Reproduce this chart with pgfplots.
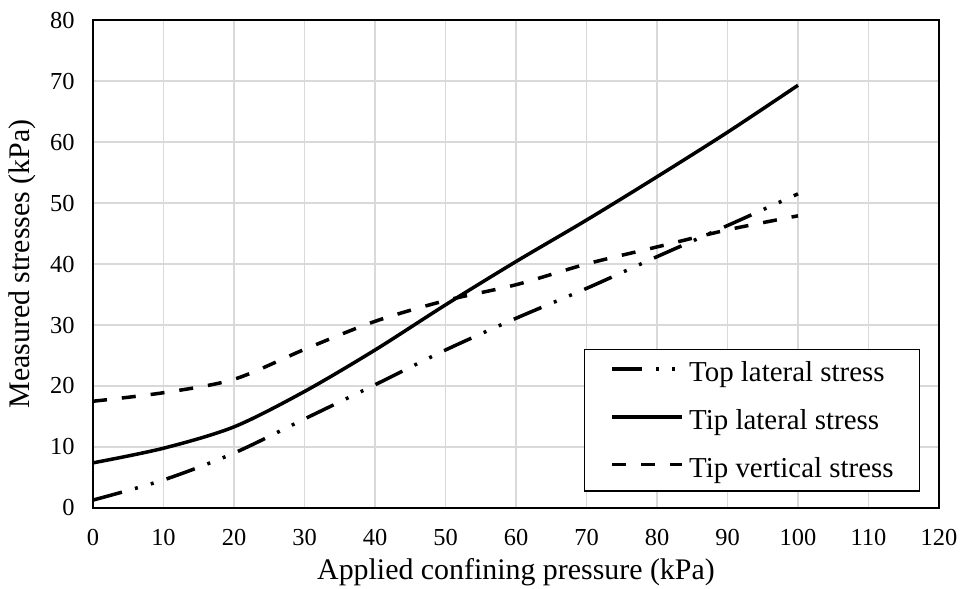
\documentclass[border=0pt]{standalone}
\usepackage{fontspec}
\setmainfont{Liberation Serif}
\usepackage{pgfplots}
\pgfplotsset{compat=1.18}
\begin{document}
\begin{tikzpicture}
\begin{axis}[
  at={(0,0)}, anchor=south west,
  scale only axis, width=846bp, height=488bp,
  xmin=0, xmax=120, ymin=0, ymax=80,
  xtick distance=10, ytick distance=10,
  grid=major,
  major grid style={draw=black!15, line width=1.3bp},
  axis line style={line width=1.8bp, black},
  tick style={draw=none},
  /pgf/number format/assume math mode=true,
  ticklabel style={font=\fontsize{24.5}{28}\selectfont},
  xticklabel style={yshift=-18bp},
  yticklabel style={xshift=-15bp},
  xlabel={Applied confining pressure (kPa)},
  ylabel={Measured stresses (kPa)},
  label style={font=\fontsize{30}{34}\selectfont},
  xlabel style={yshift=-6bp},
  ylabel style={yshift=7bp},
  legend style={at={(rel axis cs:0.5804,0.3258)}, anchor=north west,
    draw=black, line width=1.4bp,
    font=\fontsize{29}{33}\selectfont,
    inner xsep=26bp, inner ysep=12bp,
    nodes={inner sep=0pt},
    row sep=26.3bp, column sep=5bp},
  legend cell align=left,
  legend image code/.code={\draw[#1] (0bp,3.5bp) -- (70bp,3.5bp);},
]
\addplot[black, line width=3.5bp, smooth,
  dash pattern=on 30bp off 13.5bp on 3bp off 13.5bp on 3bp off 13.5bp]
  coordinates {(0,1.3) (10,4.6) (20,9.0) (30,14.6) (40,20.2) (50,25.9)
    (60,31.1) (70,36.0) (80,41.2) (90,46.3) (100,51.5)};
\addlegendentry{Top lateral stress}
\addplot[black, line width=3.5bp, smooth]
  coordinates {(0,7.4) (10,9.8) (20,13.3) (30,19.1) (40,25.9) (50,33.3)
    (60,40.4) (70,47.2) (80,54.3) (90,61.6) (100,69.3)};
\addlegendentry{Tip lateral stress}
\addplot[black, line width=3.5bp, smooth, dash pattern=on 14bp off 15bp]
  coordinates {(0,17.5) (10,18.9) (20,21.1) (30,26.0) (40,30.6) (50,34.0)
    (60,36.6) (70,40.0) (80,42.8) (90,45.6) (100,47.9)};
\addlegendentry{Tip vertical stress}
\end{axis}
\pgfresetboundingbox
\path[use as bounding box] (-93bp,-81bp) rectangle (870bp,508bp);
\end{tikzpicture}
\end{document}
